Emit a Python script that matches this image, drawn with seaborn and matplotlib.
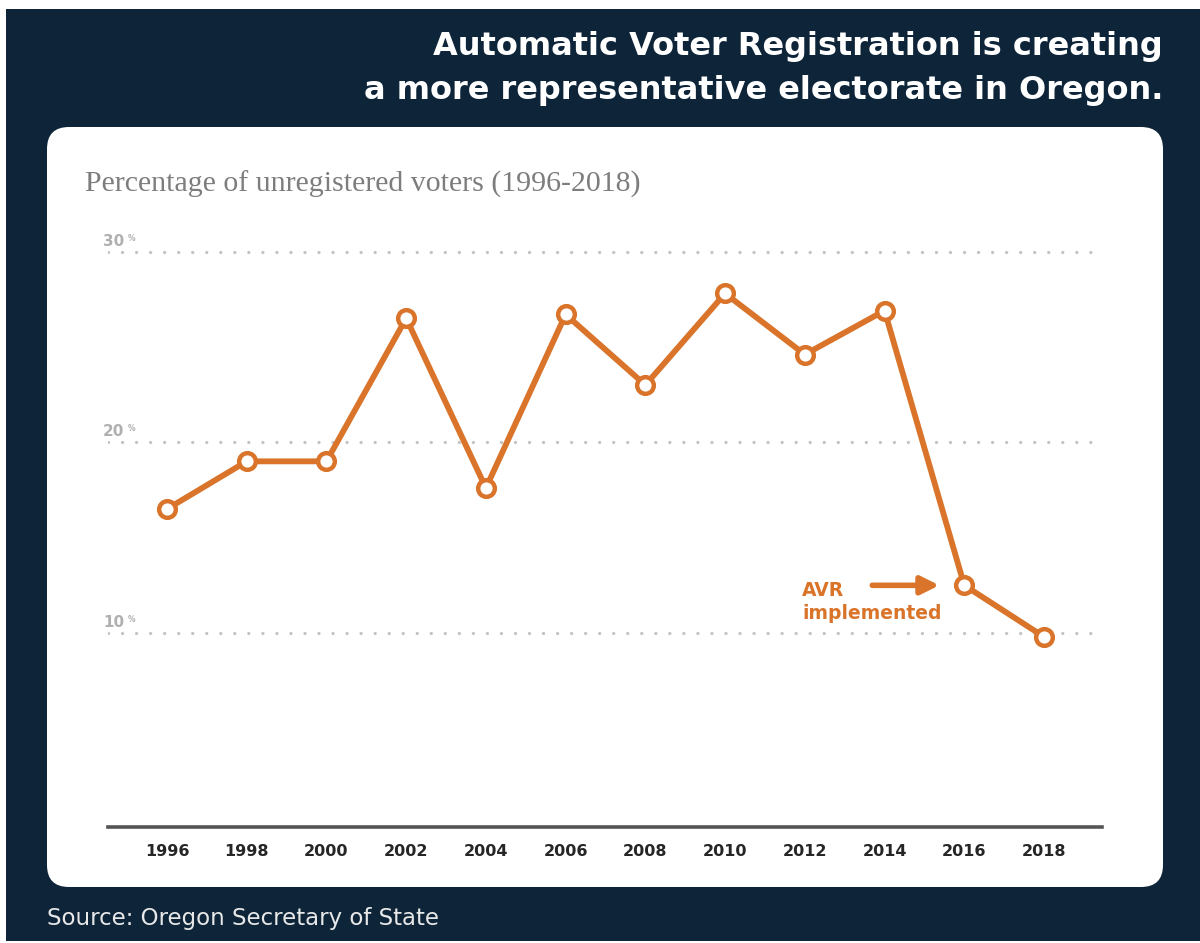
import matplotlib
matplotlib.use("Agg")
import matplotlib.pyplot as plt
from matplotlib.patches import FancyBboxPatch, Rectangle
import seaborn as sns
import pandas as pd

# Share of eligible Oregonians not registered to vote
years = [1996, 1998, 2000, 2002, 2004, 2006, 2008, 2010, 2012, 2014, 2016, 2018]
unregistered_pct = [16.5, 19.0, 19.0, 26.5, 17.6, 26.7, 23.0, 27.8, 24.6, 26.9, 12.5, 9.8]
y_ticks = [10, 20, 30]

NAVY = "#0d2439"
ORANGE = "#d9742a"
GRID = "#c4c4c4"
SANS = ["DejaVu Sans"]

sns.set_theme(style="white")
plt.rcParams["font.family"] = SANS

fig = plt.figure(figsize=(12, 9.43), dpi=100, facecolor="white")

# dark backdrop and white rounded card (inch coordinates)
fig.patches.append(Rectangle((0.06, 0.02), 11.94, 9.32, transform=fig.dpi_scale_trans,
                             facecolor=NAVY, edgecolor="none", zorder=0))
fig.patches.append(FancyBboxPatch((0.47, 0.56), 11.16, 7.60,
                                  boxstyle="round,pad=0,rounding_size=0.22",
                                  transform=fig.dpi_scale_trans,
                                  facecolor="white", edgecolor="none", zorder=1))

ax = fig.add_axes([108 / 1200, 1 - 827 / 943, 994 / 1200, (827 - 200) / 943])
ax.set_facecolor("none")
ax.set_zorder(2)

df = pd.DataFrame({"year": years, "pct": unregistered_pct})

for t in y_ticks:
    ax.axhline(t, color=GRID, linewidth=2.4, linestyle=(0, (0.01, 4.2)),
               dash_capstyle="round", xmin=0.0, xmax=1.0, zorder=1)
    ax.annotate(f"{t}", xy=(0, t), xycoords=("axes fraction", "data"),
                xytext=(-5, 3), textcoords="offset pixels", ha="left", va="bottom",
                fontsize=11, fontweight="bold", color="#b0b0b0")
    ax.annotate("%", xy=(0, t), xycoords=("axes fraction", "data"),
                xytext=(20, 9), textcoords="offset pixels", ha="left", va="bottom",
                fontsize=5.5, fontweight="bold", color="#b0b0b0")

sns.lineplot(data=df, x="year", y="pct", ax=ax, color=ORANGE, linewidth=4.2,
             marker="o", markersize=12, markerfacecolor="white",
             markeredgecolor=ORANGE, markeredgewidth=3.2, zorder=3)

ax.set_xlim(1994.52, 2019.455)
ax.set_ylim(-0.17, 32.7)
ax.set_xticks(years)
ax.set_xticklabels([str(y) for y in years], fontsize=11.5, fontweight="bold", color="#262626")
ax.set_yticks([])
ax.set_xlabel("")
ax.set_ylabel("")
ax.tick_params(axis="x", length=0, pad=12)
for side in ["top", "right", "left"]:
    ax.spines[side].set_visible(False)
ax.spines["bottom"].set_color("#555555")
ax.spines["bottom"].set_linewidth(2.6)

# AVR annotation pointing at the 2016 value
i16 = years.index(2016)
ax.annotate("", xy=(2016, unregistered_pct[i16]), xycoords="data",
            xytext=(-92, 0), textcoords="offset pixels",
            arrowprops=dict(arrowstyle="-|>,head_length=0.9,head_width=0.45",
                            color=ORANGE, lw=4, shrinkA=0, shrinkB=18))
ax.annotate("AVR\nimplemented", xy=(2016, unregistered_pct[i16]), xycoords="data",
            xytext=(-162, 4), textcoords="offset pixels", ha="left", va="top",
            fontsize=13.5, fontweight="bold", color=ORANGE, linespacing=1.25)

# headline, chart label and source
fig.text(1163 / 1200, 1 - 46 / 943, "Automatic Voter Registration is creating",
         ha="right", va="center", fontsize=23, fontweight="bold", color="white")
fig.text(1163 / 1200, 1 - 91 / 943, "a more representative electorate in Oregon.",
         ha="right", va="center", fontsize=23, fontweight="bold", color="white")
fig.text(85 / 1200, 1 - 184 / 943, "Percentage of unregistered voters (1996-2018)",
         ha="left", va="center", fontsize=21.5, color="#7d7d7d",
         family=["Liberation Serif", "DejaVu Serif"])
fig.text(47 / 1200, 1 - 918 / 943, "Source: Oregon Secretary of State",
         ha="left", va="center", fontsize=16.5, color="#e8e8e8")

fig.savefig("out.png", dpi=100, facecolor=fig.get_facecolor())
